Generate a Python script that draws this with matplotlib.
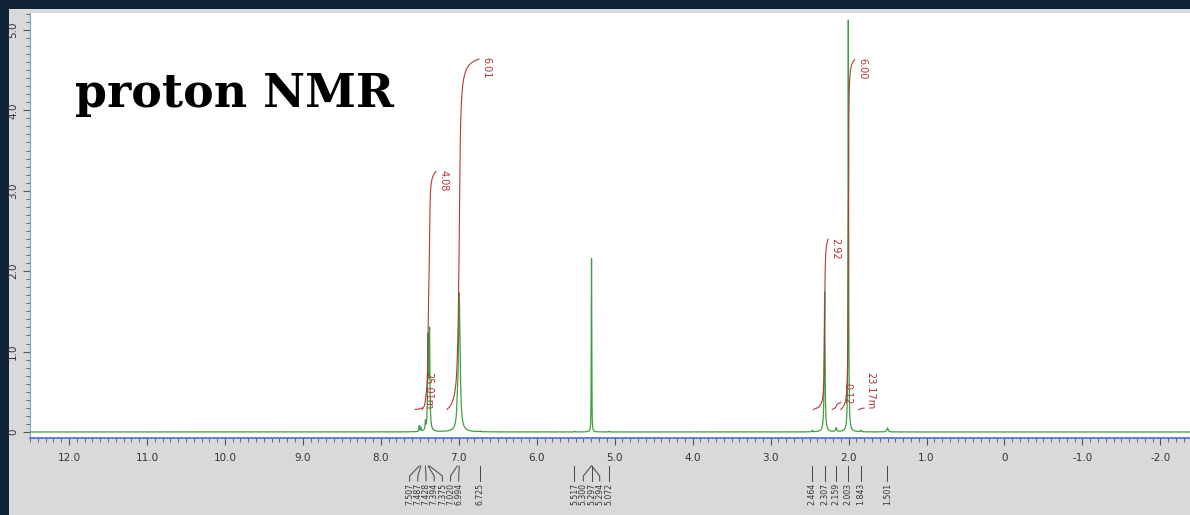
import numpy as np
import matplotlib
matplotlib.use("Agg")
import matplotlib.pyplot as plt
from matplotlib.patches import Rectangle
from matplotlib.ticker import MultipleLocator, FuncFormatter
from matplotlib.transforms import blended_transform_factory

# ---------------- data ----------------
peak_ppm = [7.507, 7.487, 7.428, 7.394, 7.375, 7.020, 6.994, 6.725,
            5.517, 5.300, 5.297, 5.294, 5.072,
            2.464, 2.307, 2.159, 2.003, 1.843, 1.501]
peak_height = [0.07, 0.05, 0.10, 1.12, 1.20, 0.12, 1.72, 0.01,
               0.01, 0.9, 1.6, 0.9, 0.01,
               0.02, 1.74, 0.05, 5.12, 0.02, 0.05]
peak_hwhm = [0.004, 0.004, 0.004, 0.006, 0.006, 0.006, 0.013, 0.005,
             0.004, 0.002, 0.002, 0.002, 0.004,
             0.005, 0.006, 0.008, 0.004, 0.006, 0.01]
peak_labels = ["7.507", "7.487", "7.428", "7.394", "7.375", "7.020", "6.994", "6.725",
               "5.517", "5.300", "5.297", "5.294", "5.072",
               "2.464", "2.307", "2.159", "2.003", "1.843", "1.501"]
# which peak labels are bundled together under the axis
label_group = [0, 0, 0, 0, 0, 0, 0, 1,
               2, 3, 3, 3, 4,
               5, 6, 7, 8, 9, 10]

integ_start = [7.56, 7.47, 7.15, 2.45, 2.21, 2.10, 1.87]
integ_end = [7.47, 7.29, 6.74, 2.26, 2.10, 1.92, 1.80]
integ_value = [0.02501, 4.08, 6.01, 2.92, 0.12, 6.00, 0.02317]
integ_text = ["25.01m", "4.08", "6.01", "2.92", "0.12", "6.00", "23.17m"]

title_text = "proton NMR"

# ---------------- figure ----------------
W, H = 1190, 515
fig = plt.figure(figsize=(W / 100, H / 100), dpi=100)
fig.patch.set_facecolor("#0f2236")
panel = Rectangle((9 / W, 0), 1 - 9 / W, 1 - 9 / H, transform=fig.transFigure,
                  facecolor="#d9d9d9", edgecolor="none", zorder=-10)
fig.add_artist(panel)

ax = fig.add_axes([30 / W, 1 - 438 / H, 1 - 30 / W, (438 - 13) / H])
ax.set_zorder(1)
ax.set_facecolor("white")

ppm = np.arange(12.5, -2.4, -0.0005)
spec = np.zeros_like(ppm)
for p, h, w in zip(peak_ppm, peak_height, peak_hwhm):
    spec += h * w ** 2 / ((ppm - p) ** 2 + w ** 2)

ax.plot(ppm, spec, color="#3f9f3f", lw=0.9, zorder=3)

# integrals
scale = 0.725
base = 0.28
for s, e, v, t in zip(integ_start, integ_end, integ_value, integ_text):
    m = (ppm <= s) & (ppm >= e)
    xs = ppm[m]
    cum = np.cumsum(spec[m])
    cum = cum / cum[-1]
    ys = base + v * scale * cum
    ax.plot(xs, ys, color="#b03a3a", lw=0.8, zorder=4)
    if v * scale < 0.5:
        ax.text(e - 0.02, ys[-1] - 0.02, t, rotation=-90, ha="left", va="bottom",
                fontsize=7, color="#b03030", zorder=5)
    else:
        ax.text(e - 0.03, ys[-1] + 0.02, t, rotation=-90, ha="left", va="top",
                fontsize=7, color="#b03030", zorder=5)

ax.set_xlim(12.5, -2.38)
ax.set_ylim(-0.075, 5.21)

for side in ["top", "right"]:
    ax.spines[side].set_visible(False)
ax.spines["left"].set_color("#7f9fd8")
ax.spines["bottom"].set_color("#4a6fd0")
ax.spines["bottom"].set_linewidth(1.2)

ax.xaxis.set_major_locator(MultipleLocator(1.0))
ax.xaxis.set_minor_locator(MultipleLocator(0.1))
ax.yaxis.set_major_locator(MultipleLocator(1.0))
ax.yaxis.set_minor_locator(MultipleLocator(0.1))
fmt = FuncFormatter(lambda v, p: "0" if abs(v) < 1e-9 else f"{v:.1f}")
ax.xaxis.set_major_formatter(fmt)
ax.yaxis.set_major_formatter(fmt)
ax.tick_params(axis="both", which="major", length=5, width=0.8, color="#555555",
               labelsize=7.5, labelcolor="#333333")
ax.tick_params(axis="both", which="minor", length=3, width=0.6, color="#555555")
ax.tick_params(axis="x", pad=6)
for lab in ax.get_yticklabels():
    lab.set_rotation(90)
    lab.set_va("center")

# peak pick annotations below axis
tr = blended_transform_factory(ax.transData, fig.transFigure)
gap = 0.105
label_x = {}
for g in sorted(set(label_group)):
    idx = [i for i, gg in enumerate(label_group) if gg == g]
    c = np.mean([peak_ppm[i] for i in idx])
    n = len(idx)
    for k, i in enumerate(idx):
        label_x[i] = c + gap * ((n - 1) / 2 - k)

y_top = 1 - 466 / H
y_mid = 1 - 476 / H
y_bot = 1 - 481 / H
for i in range(len(peak_ppm)):
    lx = label_x[i]
    ax.plot([peak_ppm[i], lx, lx], [y_top, y_mid, y_bot], transform=tr,
            color="#444444", lw=0.7, clip_on=False)
    ax.text(lx, 1 - 483 / H, peak_labels[i], transform=tr, rotation=90,
            ha="center", va="top", fontsize=5.6, color="#333333")

fig.text(75 / W, 1 - 107 / H, title_text, fontsize=33, fontweight="heavy",
         family="DejaVu Serif", color="black", ha="left", va="baseline")

fig.savefig("out.png", dpi=100, facecolor=fig.get_facecolor())
